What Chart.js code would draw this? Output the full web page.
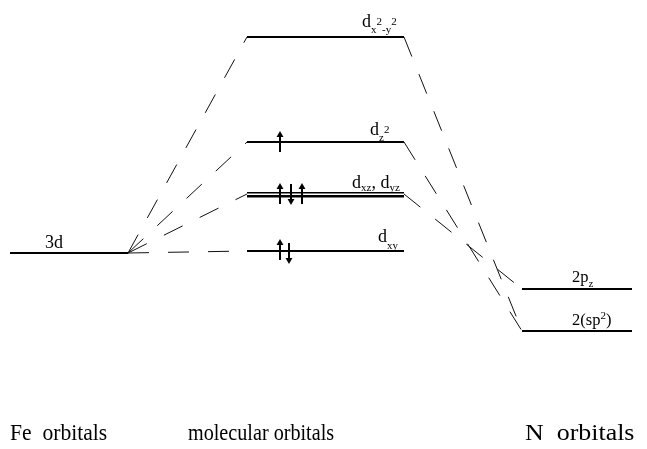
<!DOCTYPE html>
<html>
<head>
<meta charset="utf-8">
<script src="https://cdn.jsdelivr.net/npm/chart.js@4"></script>
<style>
  html, body { margin: 0; padding: 0; background: #fff; }
  #wrap { width: 647px; height: 449px; }
</style>
</head>
<body>
<div id="wrap"><canvas id="mo" width="647" height="449"></canvas></div>
<script>
// ============ DATA ============
// energies in arbitrary units (higher = up the page)
const feNames = ["3d"];
const feEnergy = [196];
const moNames = ["dx2-y2", "dz2", "dxz,dyz", "dxy"];
const moEnergy = [412, 307, 255, 198];
const nNames = ["2pz", "2(sp2)"];
const nEnergy = [160, 118];
const moElectrons = [[], ["up"], ["up", "down", "up"], ["up", "down"]];
const moToN = [1, 1, 0, null];          // N orbital each MO correlates with
const columnLabels = ["Fe  orbitals", "molecular orbitals", "N  orbitals"];

// text runs: m = normal, b = subscript, p = superscript
const feRuns = [[["3d", "m"]]];
const moRuns = [
    [["d", "m"], ["x", "b"], ["2", "p"], ["-y", "b"], ["2", "p"]],
    [["d", "m"], ["z", "b"], ["2", "p"]],
    [["d", "m"], ["xz", "b"], [", ", "m"], ["d", "m"], ["yz", "b"]],
    [["d", "m"], ["xy", "b"]]
];
const nRuns = [
    [["2p", "m"], ["z", "b"]],
    [["2(sp", "m"], ["2", "p"], [")", "m"]]
];

// ============ LAYOUT ============
const feSpan = [10, 128];
const moSpan = [247, 404];
const nSpan = [522, 632];
const DASH = [21, 19];
const SERIF = '"Liberation Serif", "Times New Roman", serif';
// the line controller reserves ~4px round the plot for point overflow;
// widen the ranges by the same amount so one unit stays one pixel
const EDGE = 4;

// label start x + baseline offsets (px) for normal / sub / sup runs
const feLabelPos = [{ x: 45, m: -5 }];
const moLabelPos = [
    { x: 362, m: -10, b: -4, p: -12 },
    { x: 370, m: -7, b: -1, p: -9 },
    { x: 352, m: -6, b: -3, p: -10 },
    { x: 378, m: -9, b: -2, p: -12 }
];
const nLabelPos = [
    { x: 572, m: -7, b: -2, p: -12, size: 16.5 },
    { x: 572, m: -6, b: -2, p: -12, size: 16.5 }
];
const columnLabelX = [10, 188, 525];
const columnLabelScale = [0.9, 0.84, 1.08];
const electronGap = [11, 11, 11, 9];

// ============ DATASETS ============
function seg(x0, y0, x1, y1, extra) {
    return Object.assign({
        data: [{ x: x0, y: y0 }, { x: x1, y: y1 }],
        showLine: true,
        pointRadius: 0,
        borderColor: "#000",
        borderWidth: 2,
        fill: false
    }, extra || {});
}

const datasets = [];

// Fe level
feEnergy.forEach(e => datasets.push(seg(feSpan[0], e, feSpan[1], e)));

// MO levels (degenerate pair drawn as double line)
moEnergy.forEach((e, i) => {
    if (moNames[i].includes(",")) {
        datasets.push(seg(moSpan[0], e + 1.2, moSpan[1], e + 1.2, { borderWidth: 1.5 }));
        datasets.push(seg(moSpan[0], e - 2.3, moSpan[1], e - 2.3, { borderWidth: 2.5 }));
    } else {
        datasets.push(seg(moSpan[0], e, moSpan[1], e));
    }
});

// N levels
nEnergy.forEach(e => datasets.push(seg(nSpan[0], e, nSpan[1], e)));

// correlation lines Fe -> MO
moEnergy.forEach(e => {
    datasets.push(seg(feSpan[1], feEnergy[0], moSpan[0], e,
        { borderWidth: 1, borderColor: "#111", borderDash: DASH }));
});

// correlation lines MO -> N
moEnergy.forEach((e, i) => {
    if (moToN[i] === null) return;
    datasets.push(seg(moSpan[1], e, nSpan[0], nEnergy[moToN[i]],
        { borderWidth: 1, borderColor: "#111", borderDash: DASH }));
});

// electrons (arrows)
moElectrons.forEach((spins, i) => {
    const e = moEnergy[i];
    const paired = spins.length === 2;
    spins.forEach((s, k) => {
        const x = moSpan[0] + 33 + k * electronGap[i];
        const up = s === "up";
        const shift = paired ? (up ? 1 : -2) : 0;
        const tail = up ? e - 10 + shift : e + 10 + shift;
        const head = up ? e + 7 + shift : e - 7 + shift;
        datasets.push(seg(x, tail, x, head, { borderWidth: 2 }));
        datasets.push({
            data: [{ x: x, y: head }],
            showLine: false,
            pointStyle: "triangle",
            pointRadius: 4,
            rotation: up ? 0 : 180,
            pointBackgroundColor: "#000",
            pointBorderColor: "#000",
            pointBorderWidth: 0
        });
    });
});

// ============ TEXT ============
function drawRuns(ctx, px, py, runs, pos) {
    const big = pos.size || 18;
    let cx = px;
    runs.forEach(([t, kind]) => {
        ctx.font = (kind === "m" ? big : 11) + "px " + SERIF;
        const dy = kind === "m" ? pos.m : kind === "b" ? pos.b : pos.p;
        ctx.fillText(t, cx, py + dy);
        cx += ctx.measureText(t).width;
    });
}

const textPlugin = {
    id: "moText",
    beforeDraw(chart) {
        const ctx = chart.ctx;
        ctx.save();
        ctx.fillStyle = "#fff";
        ctx.fillRect(0, 0, chart.width, chart.height);
        ctx.restore();
    },
    afterDatasetsDraw(chart) {
        const { ctx, scales: { x, y } } = chart;
        ctx.save();
        ctx.fillStyle = "#000";
        ctx.textBaseline = "alphabetic";
        ctx.textAlign = "left";

        feRuns.forEach((r, i) => drawRuns(ctx, x.getPixelForValue(feLabelPos[i].x),
            y.getPixelForValue(feEnergy[i]), r, feLabelPos[i]));
        moRuns.forEach((r, i) => drawRuns(ctx, x.getPixelForValue(moLabelPos[i].x),
            y.getPixelForValue(moEnergy[i]), r, moLabelPos[i]));
        nRuns.forEach((r, i) => drawRuns(ctx, x.getPixelForValue(nLabelPos[i].x),
            y.getPixelForValue(nEnergy[i]), r, nLabelPos[i]));

        // column captions along the bottom
        ctx.font = "24px " + SERIF;
        columnLabels.forEach((t, i) => {
            ctx.save();
            ctx.translate(x.getPixelForValue(columnLabelX[i]), 440);
            ctx.scale(columnLabelScale[i], 1);
            ctx.fillText(t, 0, 0);
            ctx.restore();
        });
        ctx.restore();
    }
};

// ============ CHART ============
new Chart(document.getElementById("mo"), {
    type: "scatter",
    data: { datasets },
    options: {
        responsive: false,
        animation: false,
        events: [],
        layout: { padding: 0 },
        plugins: { legend: { display: false }, tooltip: { enabled: false } },
        scales: {
            x: { type: "linear", min: EDGE, max: 647 - EDGE, display: false },
            y: { type: "linear", min: EDGE, max: 449 - EDGE, display: false }
        }
    },
    plugins: [textPlugin]
});
</script>
</body>
</html>
